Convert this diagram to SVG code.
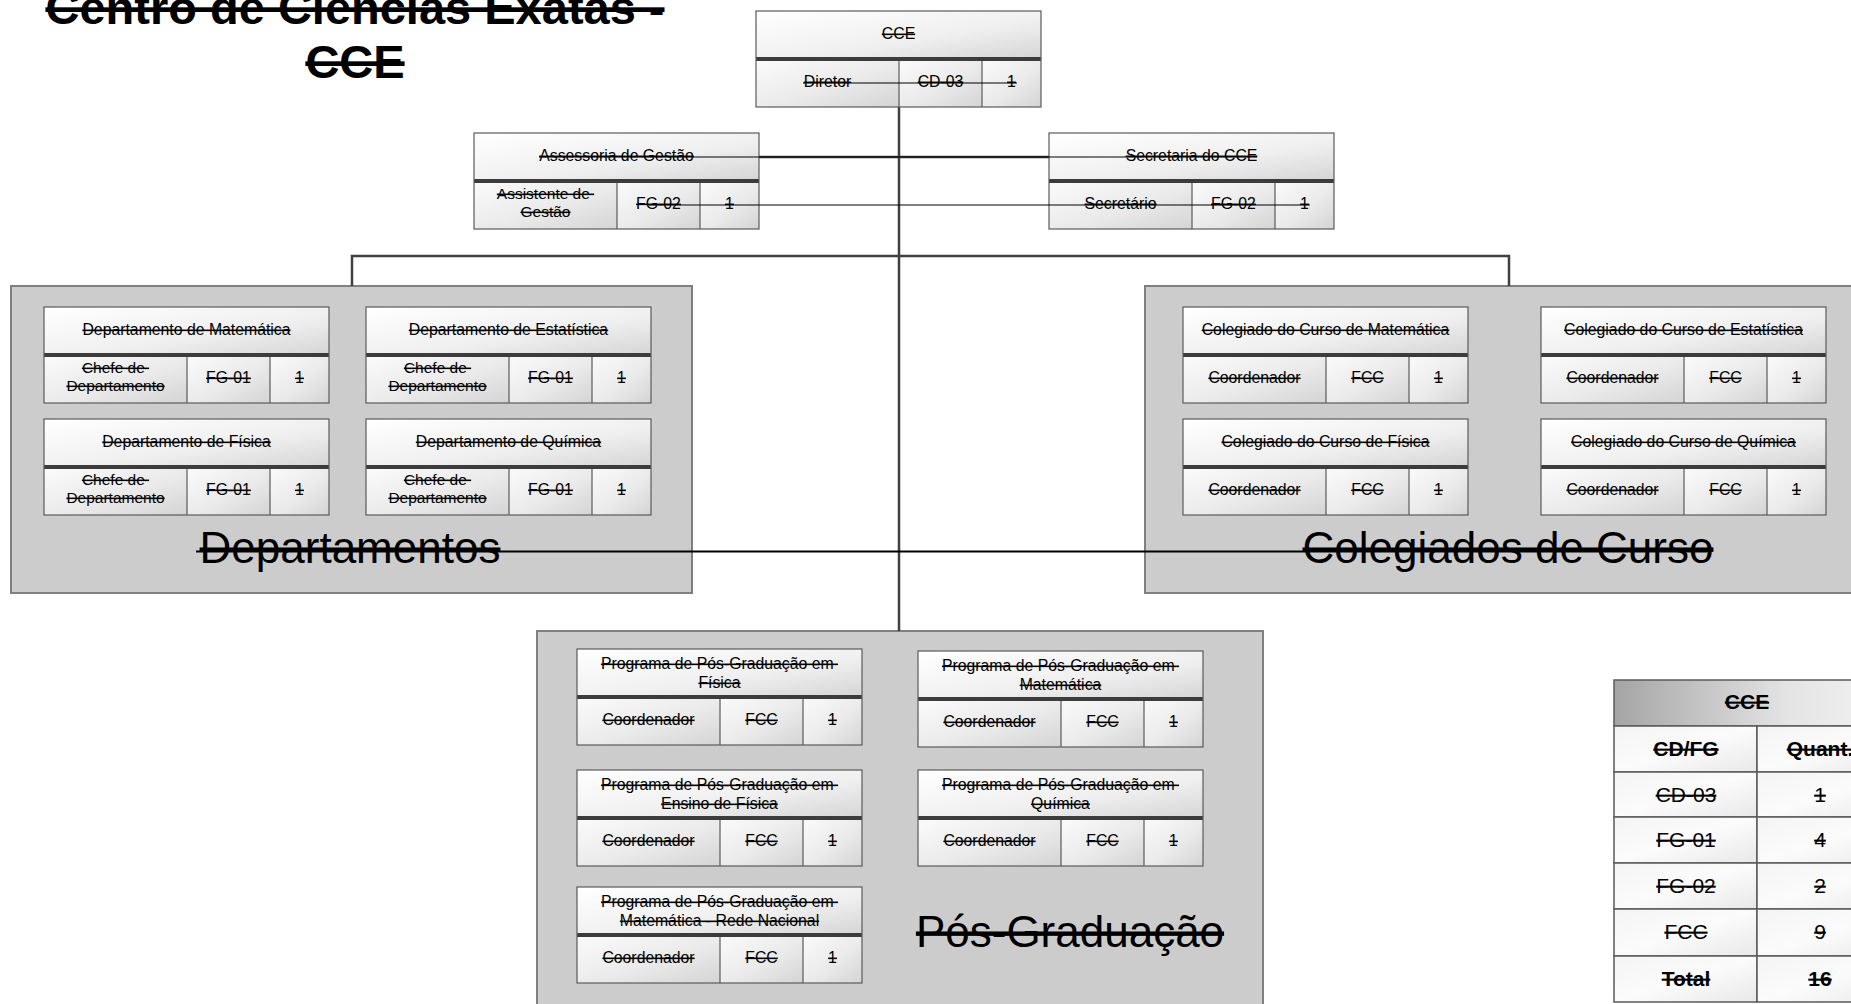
<svg xmlns="http://www.w3.org/2000/svg" width="1851" height="1004" viewBox="0 0 1851 1004">
<style>
  text { font-family: "Liberation Sans", Arial, sans-serif; fill: #000; text-anchor: middle; text-decoration: line-through; }
  .title { font-size: 47px; font-weight: bold; }
  .big { font-size: 44px; }
  .t { font-size: 15.8px; }
  .c { font-size: 15.8px; }
  .c2 { font-size: 15.5px; }
  .tab { font-size: 21px; }
  .b { font-weight: bold; }
  .panel { fill: #cccccc; stroke: #7f7f7f; stroke-width: 2; }
  .tb { fill: url(#gTitle); }
  .cb { fill: url(#gCell); }
  .sep { fill: #3c3c3c; }
  .frame { fill: none; stroke: #5a5a5a; stroke-width: 1.2; }
  .div { stroke: #5a5a5a; stroke-width: 1.2; }
  .conn { fill: none; stroke: #404040; stroke-width: 2.5; }
  .strike { stroke: #000; stroke-width: 1.1; }
  .strikebig { stroke: #000; stroke-width: 2.2; }
  .trow { fill: url(#gRow); stroke: #5a5a5a; stroke-width: 1.5; }
  .thdr { fill: url(#gHdr); stroke: #5a5a5a; stroke-width: 1.5; }
</style>
<defs>
  <linearGradient id="gTitle" x1="0" y1="0" x2="1" y2="1">
    <stop offset="0" stop-color="#ffffff"/>
    <stop offset="0.6" stop-color="#efefef"/>
    <stop offset="1" stop-color="#d6d6d6"/>
  </linearGradient>
  <linearGradient id="gCell" x1="0" y1="0" x2="1" y2="1">
    <stop offset="0" stop-color="#fafafa"/>
    <stop offset="0.55" stop-color="#eaeaea"/>
    <stop offset="1" stop-color="#d4d4d4"/>
  </linearGradient>
  <linearGradient id="gRow" x1="0" y1="0" x2="1" y2="1">
    <stop offset="0" stop-color="#f4f4f4"/>
    <stop offset="0.5" stop-color="#fbfbfb"/>
    <stop offset="1" stop-color="#e8e8e8"/>
  </linearGradient>
  <linearGradient id="gHdr" x1="0" y1="0" x2="1" y2="0">
    <stop offset="0" stop-color="#a4a4a4"/>
    <stop offset="0.6" stop-color="#e4e4e4"/>
    <stop offset="1" stop-color="#f4f4f4"/>
  </linearGradient>
  <g id="boxbg">
    <rect class="tb" x="0" y="0" width="285" height="46"/>
    <rect class="cb" x="0" y="50" width="143" height="46"/>
    <rect class="cb" x="143" y="50" width="83" height="46"/>
    <rect class="cb" x="226" y="50" width="59" height="46"/>
    <rect class="sep" x="0" y="46" width="285" height="4"/>
    <line class="div" x1="143" y1="50" x2="143" y2="96"/>
    <line class="div" x1="226" y1="50" x2="226" y2="96"/>
    <rect class="frame" x="0" y="0" width="285" height="96"/>
  </g>
</defs>

<rect x="0" y="0" width="1851" height="1004" fill="#ffffff"/>

<g id="heading">
  <text class="title" x="355" y="24">Centro de Ciências Exatas -</text>
  <text class="title" x="355" y="78">CCE</text>
</g>

<g id="panels">
  <g id="panel-departamentos">
    <rect class="panel" x="11" y="286" width="681" height="307"/>
    <text class="big" x="350" y="563">Departamentos</text>
  </g>
  <g id="panel-colegiados">
    <rect class="panel" x="1145" y="286" width="720" height="307"/>
    <text class="big" x="1508" y="563">Colegiados de Curso</text>
  </g>
  <g id="panel-pos">
    <rect class="panel" x="537" y="631" width="726" height="390"/>
    <text class="big" x="1070" y="947">Pós-Graduação</text>
  </g>
</g>

<g id="connectors">
  <line class="conn" x1="899" y1="107" x2="899" y2="631"/>
  <line class="conn" x1="759" y1="157" x2="1049" y2="157"/>
  <polyline class="conn" points="352,286 352,256 1509,256 1509,286"/>
</g>

<g id="node-cce" transform="translate(756,11)">
  <use href="#boxbg"/>
  <text class="t" x="142.5" y="28">CCE</text>
  <text class="c" x="71.5" y="76">Diretor</text>
  <text class="c" x="184.5" y="76">CD-03</text>
  <text class="c" x="255.5" y="76">1</text>
</g>

<g id="node-assessoria" transform="translate(474,133)">
  <use href="#boxbg"/>
  <text class="t" x="142.5" y="28">Assessoria de Gestão</text>
  <text class="c2" x="71.5" y="66" xml:space="preserve">Assistente de </text>
  <text class="c2" x="71.5" y="84">Gestão</text>
  <text class="c" x="184.5" y="76">FG-02</text>
  <text class="c" x="255.5" y="76">1</text>
</g>

<g id="node-secretaria" transform="translate(1049,133)">
  <use href="#boxbg"/>
  <text class="t" x="142.5" y="28">Secretaria do CCE</text>
  <text class="c" x="71.5" y="76">Secretário</text>
  <text class="c" x="184.5" y="76">FG-02</text>
  <text class="c" x="255.5" y="76">1</text>
</g>

<g id="node-dep-matematica" transform="translate(44,307)">
  <use href="#boxbg"/>
  <text class="t" x="142.5" y="28">Departamento de Matemática</text>
  <text class="c2" x="71.5" y="66" xml:space="preserve">Chefe de </text>
  <text class="c2" x="71.5" y="84">Departamento</text>
  <text class="c" x="184.5" y="76">FG-01</text>
  <text class="c" x="255.5" y="76">1</text>
</g>

<g id="node-dep-estatistica" transform="translate(366,307)">
  <use href="#boxbg"/>
  <text class="t" x="142.5" y="28">Departamento de Estatística</text>
  <text class="c2" x="71.5" y="66" xml:space="preserve">Chefe de </text>
  <text class="c2" x="71.5" y="84">Departamento</text>
  <text class="c" x="184.5" y="76">FG-01</text>
  <text class="c" x="255.5" y="76">1</text>
</g>

<g id="node-dep-fisica" transform="translate(44,419)">
  <use href="#boxbg"/>
  <text class="t" x="142.5" y="28">Departamento de Física</text>
  <text class="c2" x="71.5" y="66" xml:space="preserve">Chefe de </text>
  <text class="c2" x="71.5" y="84">Departamento</text>
  <text class="c" x="184.5" y="76">FG-01</text>
  <text class="c" x="255.5" y="76">1</text>
</g>

<g id="node-dep-quimica" transform="translate(366,419)">
  <use href="#boxbg"/>
  <text class="t" x="142.5" y="28">Departamento de Química</text>
  <text class="c2" x="71.5" y="66" xml:space="preserve">Chefe de </text>
  <text class="c2" x="71.5" y="84">Departamento</text>
  <text class="c" x="184.5" y="76">FG-01</text>
  <text class="c" x="255.5" y="76">1</text>
</g>

<g id="node-col-matematica" transform="translate(1183,307)">
  <use href="#boxbg"/>
  <text class="t" x="142.5" y="28">Colegiado do Curso de Matemática</text>
  <text class="c" x="71.5" y="76">Coordenador</text>
  <text class="c" x="184.5" y="76">FCC</text>
  <text class="c" x="255.5" y="76">1</text>
</g>

<g id="node-col-estatistica" transform="translate(1541,307)">
  <use href="#boxbg"/>
  <text class="t" x="142.5" y="28">Colegiado do Curso de Estatística</text>
  <text class="c" x="71.5" y="76">Coordenador</text>
  <text class="c" x="184.5" y="76">FCC</text>
  <text class="c" x="255.5" y="76">1</text>
</g>

<g id="node-col-fisica" transform="translate(1183,419)">
  <use href="#boxbg"/>
  <text class="t" x="142.5" y="28">Colegiado do Curso de Física</text>
  <text class="c" x="71.5" y="76">Coordenador</text>
  <text class="c" x="184.5" y="76">FCC</text>
  <text class="c" x="255.5" y="76">1</text>
</g>

<g id="node-col-quimica" transform="translate(1541,419)">
  <use href="#boxbg"/>
  <text class="t" x="142.5" y="28">Colegiado do Curso de Química</text>
  <text class="c" x="71.5" y="76">Coordenador</text>
  <text class="c" x="184.5" y="76">FCC</text>
  <text class="c" x="255.5" y="76">1</text>
</g>

<g id="node-pos-fisica" transform="translate(577,649)">
  <use href="#boxbg"/>
  <text class="t" x="142.5" y="20" xml:space="preserve">Programa de Pós-Graduação em </text>
  <text class="t" x="142.5" y="39">Física</text>
  <text class="c" x="71.5" y="76">Coordenador</text>
  <text class="c" x="184.5" y="76">FCC</text>
  <text class="c" x="255.5" y="76">1</text>
</g>

<g id="node-pos-matematica" transform="translate(918,651)">
  <use href="#boxbg"/>
  <text class="t" x="142.5" y="20" xml:space="preserve">Programa de Pós-Graduação em </text>
  <text class="t" x="142.5" y="39">Matemática</text>
  <text class="c" x="71.5" y="76">Coordenador</text>
  <text class="c" x="184.5" y="76">FCC</text>
  <text class="c" x="255.5" y="76">1</text>
</g>

<g id="node-pos-ensino-fisica" transform="translate(577,770)">
  <use href="#boxbg"/>
  <text class="t" x="142.5" y="20" xml:space="preserve">Programa de Pós-Graduação em </text>
  <text class="t" x="142.5" y="39">Ensino de Física</text>
  <text class="c" x="71.5" y="76">Coordenador</text>
  <text class="c" x="184.5" y="76">FCC</text>
  <text class="c" x="255.5" y="76">1</text>
</g>

<g id="node-pos-quimica" transform="translate(918,770)">
  <use href="#boxbg"/>
  <text class="t" x="142.5" y="20" xml:space="preserve">Programa de Pós-Graduação em </text>
  <text class="t" x="142.5" y="39">Química</text>
  <text class="c" x="71.5" y="76">Coordenador</text>
  <text class="c" x="184.5" y="76">FCC</text>
  <text class="c" x="255.5" y="76">1</text>
</g>

<g id="node-pos-profmat" transform="translate(577,887)">
  <use href="#boxbg"/>
  <text class="t" x="142.5" y="20" xml:space="preserve">Programa de Pós-Graduação em </text>
  <text class="t" x="142.5" y="39">Matemática - Rede Nacional</text>
  <text class="c" x="71.5" y="76">Coordenador</text>
  <text class="c" x="184.5" y="76">FCC</text>
  <text class="c" x="255.5" y="76">1</text>
</g>

<g id="strike-lines">
  <line class="strike" x1="803" y1="83" x2="1017" y2="83"/>
  <line class="strike" x1="539" y1="157" x2="1257" y2="157"/>
  <line class="strike" x1="649" y1="205" x2="1310" y2="205"/>
  <line class="strikebig" x1="196" y1="551.5" x2="1707" y2="551.5"/>
</g>

<g id="summary-table">
  <rect class="thdr" x="1614" y="680" width="290" height="46"/>
  <rect class="trow" x="1614" y="726" width="143" height="46"/>
  <rect class="trow" x="1757" y="726" width="147" height="46"/>
  <rect class="trow" x="1614" y="772" width="143" height="45"/>
  <rect class="trow" x="1757" y="772" width="147" height="45"/>
  <rect class="trow" x="1614" y="817" width="143" height="46"/>
  <rect class="trow" x="1757" y="817" width="147" height="46"/>
  <rect class="trow" x="1614" y="863" width="143" height="46"/>
  <rect class="trow" x="1757" y="863" width="147" height="46"/>
  <rect class="trow" x="1614" y="909" width="143" height="47"/>
  <rect class="trow" x="1757" y="909" width="147" height="47"/>
  <rect class="trow" x="1614" y="956" width="143" height="46"/>
  <rect class="trow" x="1757" y="956" width="147" height="46"/>
  <text class="tab b" x="1747" y="709">CCE</text>
  <text class="tab b" x="1686" y="756">CD/FG</text>
  <text class="tab b" x="1820" y="756">Quant.</text>
  <text class="tab" x="1686" y="802">CD-03</text>
  <text class="tab" x="1820" y="802">1</text>
  <text class="tab" x="1686" y="847">FG-01</text>
  <text class="tab" x="1820" y="847">4</text>
  <text class="tab" x="1686" y="893">FG-02</text>
  <text class="tab" x="1820" y="893">2</text>
  <text class="tab" x="1686" y="939">FCC</text>
  <text class="tab" x="1820" y="939">9</text>
  <text class="tab b" x="1686" y="986">Total</text>
  <text class="tab b" x="1820" y="986">16</text>
</g>
</svg>
